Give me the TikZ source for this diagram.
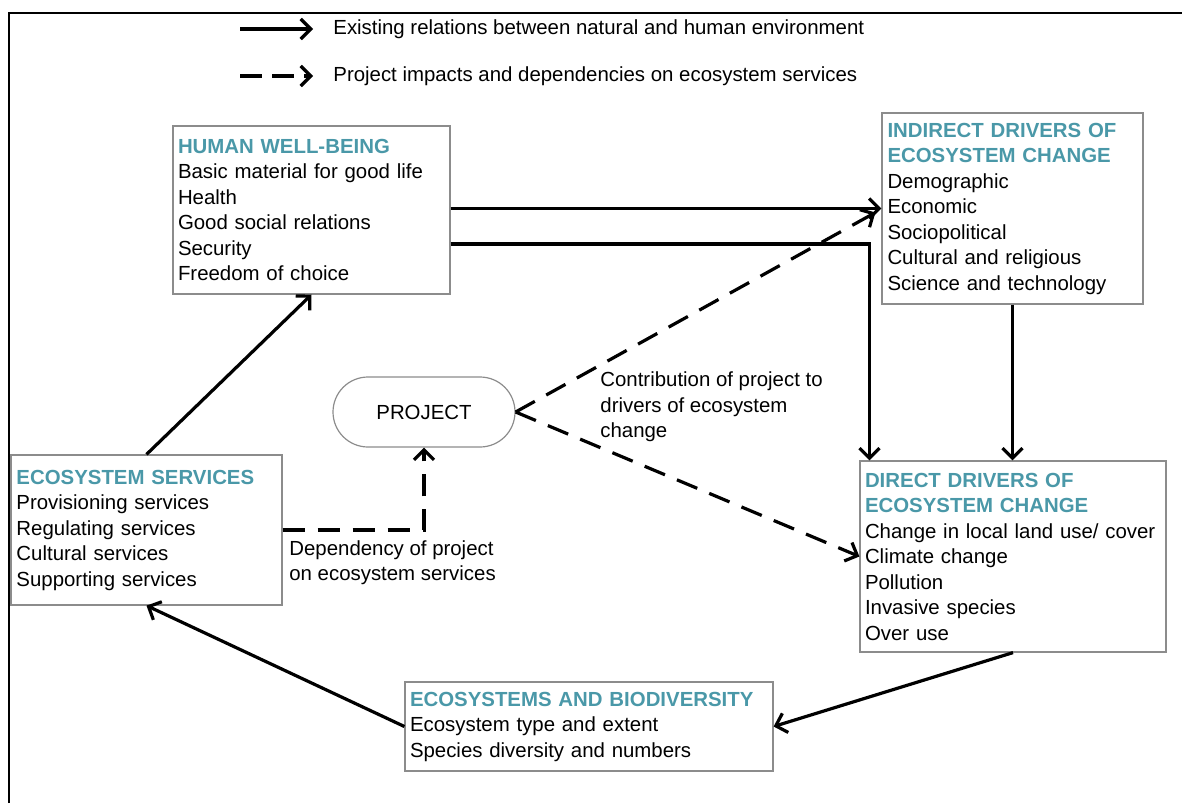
\documentclass[tikz,border=0pt]{standalone}
\usepackage{fontspec}
\setmainfont{Liberation Sans}
\usetikzlibrary{arrows.meta,calc}
\definecolor{headteal}{RGB}{74,152,168}
\definecolor{boxgray}{RGB}{140,140,140}
\begin{document}
\begin{tikzpicture}[x=0.5pt,y=-0.5pt,
  font=\fontsize{10.2}{12.75}\selectfont,
  box/.style={draw=boxgray, line width=0.6pt, align=left, inner sep=0pt, anchor=center},
  conn/.style={line width=1.6pt, -{Straight Barb[length=5pt,width=10pt,line width=1.6pt]}},
  dsh/.style={conn, dash pattern=on 11pt off 6.5pt},
  lbl/.style={align=left, inner sep=0pt, anchor=west}]
\newcommand{\hdr}[1]{{\bfseries\color{headteal}#1}}
\useasboundingbox (0,0) rectangle (1182,803);
% frame
\draw[line width=1.4pt] (9,803) -- (9,13) -- (1182,13);
% legend
\coordinate (l1a) at (240,29); \coordinate (l1b) at (313,29);
\coordinate (l2a) at (240,76); \coordinate (l2b) at (313,76);
\draw[conn] (l1a) -- (l1b);
\draw[conn, dash pattern=on 11pt off 5pt] (l2a) -- (l2b);
\node[lbl] (leg1) at (333,29) {Existing relations between natural and human environment};
\node[lbl] (leg2) at (333,76) {Project impacts and dependencies on ecosystem services};
% boxes
\node[box, minimum width=138.5pt, minimum height=84pt, text width=133.5pt] (hwb) at (311.5,210)
 {\hdr{HUMAN WELL-BEING}\\Basic material for good life\\Health\\Good social relations\\Security\\Freedom of choice};
\node[box, minimum width=130.5pt, minimum height=95.5pt, text width=125pt] (ind) at (1012.5,208.5)
 {\hdr{INDIRECT DRIVERS OF}\\\hdr{ECOSYSTEM CHANGE}\\Demographic\\Economic\\Sociopolitical\\Cultural and religious\\Science and technology};
\node[box, minimum width=153pt, minimum height=95.5pt, text width=148pt] (dir) at (1013,556.5)
 {\hdr{DIRECT DRIVERS OF}\\\hdr{ECOSYSTEM CHANGE}\\Change in local land use/ cover\\Climate change\\Pollution\\Invasive species\\Over use};
\node[box, minimum width=135.5pt, minimum height=75pt, text width=130pt] (es) at (146.5,530)
 {\hdr{ECOSYSTEM SERVICES}\\Provisioning services\\Regulating services\\Cultural services\\Supporting services};
\node[box, minimum width=184pt, minimum height=44.5pt, text width=179pt] (eco) at (589,726.5)
 {\hdr{ECOSYSTEMS AND BIODIVERSITY}\\Ecosystem type and extent\\Species diversity and numbers};
\node[draw=boxgray, line width=0.6pt, rounded corners=17.5pt, minimum width=91pt, minimum height=35pt, inner sep=0pt] (proj) at (424,412) {PROJECT};
% labels
\node[lbl] (contrib) at (600,407) {Contribution of project to\\drivers of ecosystem\\change};
\node[lbl] (depend) at (289,562.5) {Dependency of project\\on ecosystem services};
% solid connectors
\draw[conn] (hwb.east |- ind.west) -- (ind.west);
\draw[conn] ($(hwb.east)+(0,34)$) -| ($(dir.north west)+(10,0)$);
\draw[conn] (ind.south) -- (ind.south |- dir.north);
\draw[conn] (dir.south) -- (eco.east);
\draw[conn] (eco.west) -- (es.south);
\draw[conn] (es.north) -- (hwb.south);
% dashed connectors
\draw[dsh] (es.east) -| (proj.south);
\draw[dsh] (proj.east) -- ($(ind.west)+(-6,4)$);
\draw[dsh] (proj.east) -- (dir.west);
\end{tikzpicture}
\end{document}
